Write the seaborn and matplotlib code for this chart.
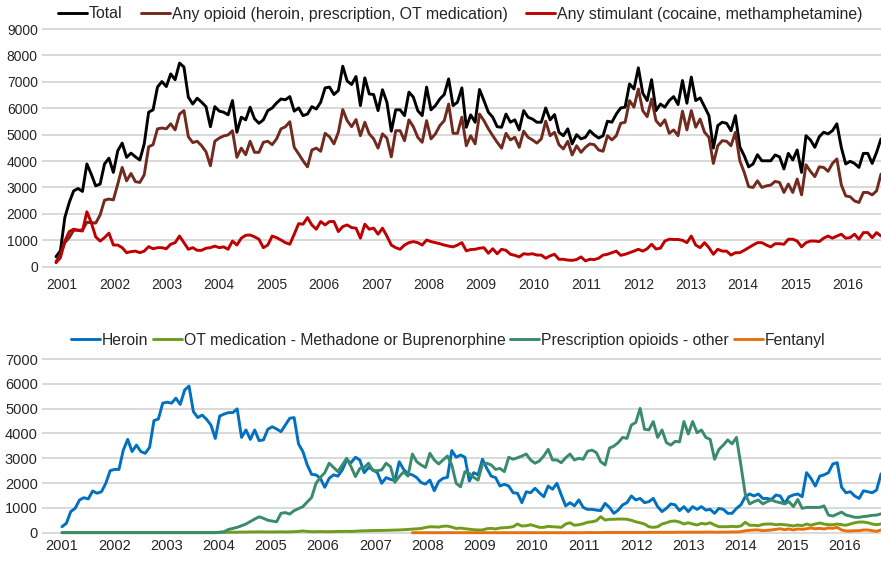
import numpy as np
import pandas as pd
import matplotlib
matplotlib.use("Agg")
import matplotlib.pyplot as plt
import seaborn as sns

# monthly counts, Jan 2001 onwards
total = [
    380, 600, 1860, 2430, 2870, 2960, 2850, 3890, 3500, 3060, 3130, 3890,
    4110, 3570, 4390, 4680, 4140, 4300, 4160, 4040, 4650, 5850, 5940, 6800,
    7010, 6820, 7300, 7080, 7710, 7560, 6420, 6160, 6380, 6230, 6060, 5300,
    6060, 5890, 5850, 5750, 6290, 5090, 5660, 5560, 6040, 5600, 5430, 5560,
    5910, 6010, 6200, 6350, 6320, 6440, 5890, 6010, 5720, 5780, 6060, 5970,
    6230, 6770, 6800, 6520, 6670, 7590, 7030, 6900, 7200, 6100, 7150, 6540,
    6520, 5910, 6700, 6230, 5130, 5940, 5940, 5720, 6610, 6420, 5910, 5720,
    6800, 5940, 6100, 6350, 6520, 7110, 6100, 6230, 6770, 5280, 5750, 5470,
    6710, 6290, 5850, 5660, 5300, 5280, 5780, 5470, 5560, 5180, 5910, 5660,
    5590, 5470, 5470, 6010, 5560, 5760, 5090, 4960, 5220, 4650, 5000, 4840,
    4900, 5150, 4990, 4870, 4960, 5510, 5470, 5780, 6010, 6040, 6920, 6730,
    7530, 6570, 6290, 7080, 5910, 6160, 6040, 6290, 6440, 6140, 7050, 6190,
    7180, 6290, 6390, 6060, 5720, 4490, 5340, 5470, 5430, 5150, 5720, 4540,
    4200, 3780, 3890, 4240, 4010, 4010, 4010, 4230, 4160, 3700, 4290, 4040,
    4420, 3570, 4960, 4800, 4520, 4920, 5090, 5030, 5150, 5410, 4520, 3890,
    3990, 3910, 3760, 4290, 4290, 3910, 4330, 4840,
]
any_opioid = [
    190, 470, 910, 1100, 1380, 1380, 1390, 1680, 1670, 1650, 1960, 2520,
    2560, 2530, 3130, 3760, 3250, 3530, 3220, 3190, 3480, 4540, 4620, 5220,
    5250, 5220, 5410, 5180, 5780, 5910, 4920, 4700, 4750, 4580, 4350, 3820,
    4750, 4870, 4950, 4990, 5150, 4140, 4490, 4240, 4750, 4330, 4330, 4710,
    4750, 4620, 4840, 5220, 5300, 5490, 4520, 4270, 4010, 3780, 4420, 4490,
    4370, 5050, 4920, 4650, 5090, 5950, 5530, 5300, 5570, 4960, 5470, 5030,
    4840, 4490, 5030, 4870, 4160, 5150, 5150, 4770, 5560, 5300, 4900, 4710,
    5530, 4840, 5030, 5340, 5530, 6160, 5050, 5050, 5660, 4580, 4960, 4650,
    5780, 5530, 5220, 4960, 4710, 4490, 5050, 4800, 4900, 4520, 5130, 4900,
    4800, 4680, 4840, 5510, 4960, 5090, 4620, 4460, 4750, 4230, 4580, 4330,
    4520, 4650, 4620, 4420, 4370, 4960, 4800, 4960, 5430, 5470, 6290, 6040,
    6730, 5910, 5680, 6350, 5530, 5340, 5560, 5050, 5180, 4960, 5890, 5180,
    5910, 5280, 5590, 5090, 4900, 3910, 4580, 4770, 4750, 4580, 5090, 4010,
    3570, 3030, 3000, 3250, 3000, 3060, 3090, 3230, 3190, 2810, 3130, 2810,
    3320, 2720, 3860, 3610, 3410, 3780, 3760, 3610, 3910, 4080, 3100, 2680,
    2650, 2490, 2430, 2810, 2810, 2720, 2870, 3510,
]
any_stimulant = [
    150, 340, 970, 1330, 1420, 1380, 1350, 2080, 1670, 1130, 970, 1100,
    1270, 820, 820, 720, 530, 570, 590, 530, 590, 760, 680, 720,
    720, 680, 850, 910, 1160, 910, 660, 720, 620, 620, 700, 720,
    780, 720, 750, 660, 970, 820, 1080, 1190, 1200, 1130, 1040, 720,
    820, 1160, 1100, 1010, 910, 850, 1230, 1630, 1610, 1860, 1580, 1420,
    1710, 1580, 1710, 1710, 1330, 1520, 1580, 1480, 1460, 1080, 1610, 1420,
    1460, 1230, 1460, 1160, 820, 720, 660, 820, 910, 950, 910, 820,
    1010, 950, 910, 870, 820, 780, 750, 820, 910, 600, 650, 660,
    700, 720, 510, 680, 490, 660, 620, 470, 430, 370, 490, 470,
    490, 440, 440, 320, 410, 470, 280, 280, 250, 240, 270, 370,
    220, 280, 270, 320, 440, 470, 530, 590, 430, 470, 530, 590,
    660, 590, 680, 850, 670, 700, 970, 1040, 1030, 1030, 1000, 910,
    1160, 820, 720, 910, 720, 470, 660, 590, 590, 440, 530, 530,
    620, 720, 820, 910, 910, 820, 750, 870, 870, 850, 1040, 1040,
    970, 750, 910, 970, 970, 950, 1080, 1160, 1080, 1160, 1230, 1080,
    1100, 1230, 1040, 1290, 1290, 1100, 1290, 1160,
]

heroin = [
    240, 380, 850, 980, 1320, 1410, 1360, 1680, 1590, 1650, 1990, 2500,
    2550, 2550, 3330, 3760, 3270, 3530, 3270, 3200, 3440, 4520, 4580, 5220,
    5260, 5220, 5420, 5170, 5750, 5910, 4880, 4640, 4740, 4570, 4340, 3800,
    4700, 4780, 4840, 4840, 4990, 3840, 4140, 3760, 4140, 3710, 3740, 4170,
    4270, 4180, 4070, 4340, 4610, 4640, 3580, 3270, 2730, 2350, 2330, 2190,
    1830, 2190, 2330, 2280, 2530, 2930, 2820, 3040, 2930, 2420, 2630, 2530,
    2420, 1990, 2220, 2150, 2100, 2860, 2550, 2370, 2330, 2220, 2020, 1960,
    2120, 1690, 2060, 2190, 2230, 3310, 3040, 3130, 3040, 2080, 2420, 2330,
    2960, 2590, 2280, 2220, 1880, 1950, 1880, 1610, 1590, 1210, 1650, 1610,
    1790, 1610, 1450, 1880, 1750, 1990, 1520, 1080, 1210, 1080, 1320, 1020,
    940, 940, 910, 890, 1180, 1020, 780, 910, 1120, 1210, 1480, 1320,
    1380, 1210, 1250, 1380, 1050, 850, 980, 1160, 1120, 890, 1050, 850,
    1050, 940, 1050, 910, 940, 780, 980, 940, 780, 780, 980, 1120,
    1450, 1560, 1480, 1560, 1380, 1380, 1340, 1520, 1480, 1180, 1450, 1520,
    1560, 1450, 2420, 2190, 1880, 2280, 2330, 2420, 2770, 2820, 1830, 1610,
    1650, 1480, 1380, 1690, 1650, 1610, 1720, 2370,
]
ot_medication = [
    5, 5, 5, 5, 5, 5, 5, 5, 5, 5, 5, 5,
    5, 5, 5, 5, 5, 5, 5, 5, 5, 5, 5, 5,
    5, 5, 5, 5, 5, 5, 5, 5, 5, 5, 5, 5,
    10, 15, 15, 20, 20, 25, 25, 30, 30, 35, 30, 30,
    30, 30, 35, 30, 35, 40, 50, 70, 50, 40, 40, 45,
    40, 40, 45, 50, 50, 55, 50, 60, 70, 75, 80, 85,
    90, 90, 95, 100, 105, 110, 120, 130, 145, 155, 170, 210,
    240, 235, 225, 260, 265, 225, 170, 185, 160, 140, 120, 110,
    110, 160, 175, 150, 190, 200, 215, 240, 350, 270, 280, 320,
    270, 215, 215, 255, 240, 230, 215, 350, 400, 300, 320, 360,
    420, 440, 480, 645, 510, 540, 540, 550, 550, 540, 500, 440,
    400, 350, 240, 215, 240, 350, 400, 460, 470, 430, 350, 400,
    350, 310, 375, 350, 400, 310, 240, 240, 240, 255, 240, 270,
    420, 300, 300, 280, 335, 350, 350, 320, 335, 320, 300, 270,
    310, 280, 350, 300, 350, 390, 350, 320, 320, 350, 320, 300,
    350, 400, 430, 430, 400, 350, 320, 350,
]
rx_other = [
    0, 0, 0, 0, 0, 0, 0, 0, 0, 0, 0, 0,
    0, 0, 0, 0, 0, 0, 0, 0, 0, 0, 0, 0,
    0, 0, 0, 0, 0, 0, 0, 0, 0, 0, 0, 0,
    20, 40, 130, 170, 215, 280, 350, 450, 550, 640, 580, 500,
    470, 440, 780, 810, 750, 890, 970, 1050, 1240, 1420, 1990, 2230,
    2420, 2800, 2630, 2460, 2730, 3000, 2660, 2260, 2590, 2630, 2800, 2500,
    2500, 2530, 2800, 2660, 2030, 2260, 2450, 2280, 3170, 2860, 2730, 2630,
    3200, 2930, 2770, 2930, 3090, 2730, 1990, 1850, 2460, 2390, 2230, 2120,
    2760, 2800, 2730, 2550, 2590, 2460, 3040, 2960, 3020, 3090, 3170, 2930,
    2800, 2890, 3090, 3360, 2930, 2930, 2820, 3020, 3170, 2930, 3000, 2960,
    3280, 3330, 3230, 2860, 2730, 3410, 3490, 3630, 3840, 3800, 4340, 4440,
    5010, 4170, 4140, 4480, 3840, 4140, 3630, 3530, 3680, 3660, 4480, 3980,
    4480, 4030, 4140, 3840, 3760, 2960, 3360, 3530, 3740, 3580, 3840, 2730,
    1560, 1160, 1250, 1320, 1160, 1250, 1320, 1250, 1210, 1160, 1250, 1050,
    1340, 980, 1020, 1020, 1020, 1020, 1080, 710, 670, 750, 830, 710,
    670, 620, 620, 650, 670, 700, 710, 760,
]
# fentanyl is only reported from late 2007 on
fentanyl = [np.nan] * 80 + [
    0, 0, 0, 0, 0, 0, 0, 0, 0, 0, 0, 0, 0, 0, 0, 0,
    0, 0, 0, 0, 0, 0, 0, 0, 0, 0, 0, 0,
    0, 0, 0, 0, 0, 0, 0, 0, 0, 0, 0, 0,
    5, 5, 5, 5, 10, 10, 10, 10, 10, 10, 10, 10,
    10, 10, 15, 15, 15, 15, 15, 15, 15, 20, 20, 20,
    20, 20, 20, 25, 25, 20, 20, 25, 25, 30, 30, 40,
    80, 95, 110, 110, 80, 95, 110, 135, 160, 120, 150, 110,
    150, 135, 160, 190, 160, 175, 150, 190, 175, 215, 110, 70,
    70, 80, 80, 110, 110, 80, 55, 110,
]

years = list(range(2001, 2017))

top_names = ["Total", "Any opioid (heroin, prescription, OT medication)",
             "Any stimulant (cocaine, methamphetamine)"]
top_colors = ["#000000", "#722a1e", "#c00000"]
bottom_names = ["Heroin", "OT medication - Methadone or Buprenorphine",
                "Prescription opioids - other", "Fentanyl"]
bottom_colors = ["#0070c0", "#6e9c1c", "#3a8a6c", "#e8700e"]

month = np.arange(len(total))
top_df = pd.DataFrame({"month": month, top_names[0]: total,
                       top_names[1]: any_opioid, top_names[2]: any_stimulant})
top_long = top_df.melt(id_vars="month", var_name="series", value_name="count")
bottom_df = pd.DataFrame({"month": month, bottom_names[0]: heroin,
                          bottom_names[1]: ot_medication,
                          bottom_names[2]: rx_other, bottom_names[3]: fentanyl})
bottom_long = bottom_df.melt(id_vars="month", var_name="series", value_name="count")

sns.set_theme(style="white")
plt.rcParams["font.family"] = ["Liberation Sans", "DejaVu Sans"]

W, H = 881, 563
fig = plt.figure(figsize=(W / 100, H / 100), dpi=100)
ax_left = 42
ax1 = fig.add_axes([ax_left / W, 1 - 268.7 / H, (W - ax_left) / W, 241.7 / H])
ax2 = fig.add_axes([ax_left / W, 1 - 534.7 / H, (W - ax_left) / W, 177.7 / H])

sns.lineplot(data=top_long, x="month", y="count", hue="series",
             hue_order=top_names, palette=top_colors, linewidth=2.1,
             ax=ax1, legend=False)
sns.lineplot(data=bottom_long, x="month", y="count", hue="series",
             hue_order=bottom_names, palette=bottom_colors, linewidth=2.1,
             ax=ax2, legend=False)

text_color = "#262626"
last = len(total) - 1
# (axis, y max, pad in data units, pixel x of first point, pixel x of the
#  2001 label, pixel step between year labels, tick font size, x label pad)
panels = [(ax1, 9000, 76, 56, 62, 52.4, 10, 7),
          (ax2, 7000, 81, 62, 62, 52.2, 10.5, 3)]
for ax, ymax, pad_units, px_first, px_lab0, px_year, fs, xpad in panels:
    px_per_month = (W - px_first) / last
    ax.set_ylim(-pad_units, ymax + pad_units)
    ax.set_xlim(-(px_first - ax_left) / px_per_month, last)
    ax.set_yticks(np.arange(0, ymax + 1, 1000))
    ax.set_xticks([(px_lab0 + k * px_year - px_first) / px_per_month
                   for k in range(len(years))])
    ax.set_xticklabels([str(y) for y in years])
    ax.yaxis.grid(True, color="#d9d9d9", linewidth=1.4)
    ax.xaxis.grid(False)
    ax.set_axisbelow(True)
    ax.set_xlabel("")
    ax.set_ylabel("")
    for s in ax.spines.values():
        s.set_visible(False)
    ax.tick_params(axis="y", length=0, pad=3, labelsize=fs, labelcolor=text_color)
    ax.tick_params(axis="x", length=0, pad=xpad, labelsize=fs, labelcolor=text_color)
    ax.set_facecolor("white")
    for line in ax.get_lines():
        line.set_clip_on(False)

ax1.legend(ax1.get_lines()[:3], top_names, loc="center", ncol=3,
           bbox_to_anchor=(460 / W, 1 - 14 / H), bbox_transform=fig.transFigure,
           frameon=False, fontsize=11.4, handlelength=1.85, handletextpad=0.1,
           columnspacing=1.15, labelcolor=text_color)
ax2.legend(ax2.get_lines()[:4], bottom_names, loc="center", ncol=4,
           bbox_to_anchor=(448 / W, 1 - 340 / H), bbox_transform=fig.transFigure,
           frameon=False, fontsize=11.35, handlelength=1.85, handletextpad=0.1,
           columnspacing=0.3, labelcolor=text_color)

fig.savefig("out.png", dpi=100, facecolor="white")
